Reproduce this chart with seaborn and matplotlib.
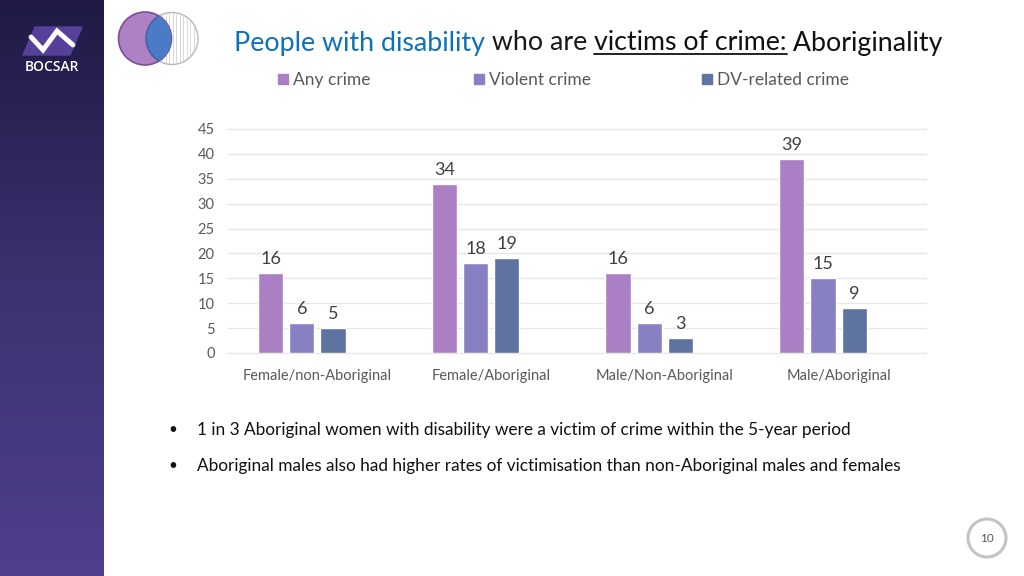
import numpy as np
import pandas as pd
import matplotlib
matplotlib.use("Agg")
import matplotlib.pyplot as plt
from matplotlib.patches import Circle, Polygon, Rectangle
import seaborn as sns

# values
groups = ["Female/non-Aboriginal", "Female/Aboriginal", "Male/Non-Aboriginal", "Male/Aboriginal"]
any_crime = [16, 34, 16, 39]
violent_crime = [6, 18, 6, 15]
dv_crime = [5, 19, 3, 9]
series_names = ["Any crime", "Violent crime", "DV-related crime"]
series_colors = ["#AB7FC3", "#8781C4", "#5E739F"]
y_ticks = [0, 5, 10, 15, 20, 25, 30, 35, 40, 45]
bullets = [
    "1 in 3 Aboriginal women with disability were a victim of crime within the 5-year period",
    "Aboriginal males also had higher rates of victimisation than non-Aboriginal males and females",
]

sns.set_theme(style="white")
plt.rcParams["font.family"] = ["Lato", "DejaVu Sans"]

df = pd.DataFrame({
    "group": groups * 3,
    "series": np.repeat(series_names, 4),
    "value": any_crime + violent_crime + dv_crime,
})

fig = plt.figure(figsize=(10.24, 5.76), dpi=100)

# whole slide layer in pixel coordinates
bg = fig.add_axes([0, 0, 1, 1])
bg.set_xlim(0, 1024)
bg.set_ylim(576, 0)
bg.axis("off")

# sidebar gradient
grad = np.linspace(0, 1, 256).reshape(-1, 1)
side_cmap = matplotlib.colors.LinearSegmentedColormap.from_list("side", ["#1E1A45", "#3C3370", "#503E8E"])
bg.imshow(grad, extent=(0, 104, 576, 0), cmap=side_cmap, aspect="auto")
bg.set_xlim(0, 1024)
bg.set_ylim(576, 0)

# logo
bg.add_patch(Polygon([(35, 27), (82, 27), (70, 55), (23, 55)], color="#56409A"))
bg.plot([31, 43, 57, 73], [37, 50, 31, 45], color="white", lw=3.5, solid_joinstyle="miter")
bg.text(51.5, 67, "BOCSAR", color="white", fontsize=10, fontfamily="Open Sans", fontweight="semibold",
        ha="center", va="center")

# venn icon
right = Circle((172, 38.5), 26, fc="white", ec="#B5B5B5", lw=1)
bg.add_patch(right)
for xs in np.arange(148, 198, 3.5):
    ln, = bg.plot([xs, xs], [10, 67], color="#D2D2D2", lw=0.6, zorder=1.5)
    ln.set_clip_path(right)
left = Circle((145, 38.5), 26.5, fc="#AE80C4", ec="#7D4E98", lw=1.2, zorder=3)
bg.add_patch(left)
overlap = Circle((172, 38.5), 26, fc="#4A7BC6", ec="#3A62A0", lw=1, zorder=4)
bg.add_patch(overlap)
overlap.set_clip_path(left)

# title, pieces laid end to end
fig.canvas.draw()
rend = fig.canvas.get_renderer()
x = 234
for piece, col, under in [("People with disability", "#0B72B9", False),
                          (" who are ", "#1A1A1A", False),
                          ("victims of crime:", "#111111", True),
                          (" Aboriginality", "#111111", False)]:
    t = bg.text(x, 43, piece, color=col, fontsize=19.3, ha="left", va="center")
    w = t.get_window_extent(rend).width
    if under:
        bg.plot([x, x + w], [54, 54], color="#111111", lw=1.3)
    x += w

# legend by hand, the spacing on the slide is not even
for lx, name, col in zip([278, 474, 702], series_names, series_colors):
    bg.add_patch(Rectangle((lx, 74), 10, 10, color=col))
    bg.text(lx + 15, 80, name, color="#595959", fontsize=12.5, ha="left", va="center")

# bullets
for by, line in zip([430, 466], bullets):
    bg.text(168, by, "•", color="#111111", fontsize=11, ha="left", va="center")
    bg.text(197, by, line, color="#111111", fontsize=12.45, ha="left", va="center")

# page number
bg.add_patch(Circle((987, 538), 19, fc="white", ec="#C4C4C4", lw=2.2))
bg.text(987, 538.5, "10", color="#595959", fontsize=8.5, ha="center", va="center")

# chart
ax = fig.add_axes([228 / 1024, 1 - 353 / 576, 698 / 1024, 224 / 576])
ax.patch.set_alpha(0)
sns.barplot(data=df, x="group", y="value", hue="series",
            hue_order=series_names + [" "], palette=series_colors + ["white"],
            order=groups, width=0.72, gap=0.19, legend=False, ax=ax, saturation=1)
for c in ax.containers:
    if len(c) and c.get_label() != " ":
        ax.bar_label(c, fontsize=13, color="#404040", padding=4.5)

ax.set_ylim(0, 45)
ax.set_xlim(-0.515, 3.503)
ax.set_yticks(y_ticks)
ax.set_xlabel("")
ax.set_ylabel("")
ax.grid(axis="y", color="#E6E6E6", lw=1, clip_on=False)
ax.set_axisbelow(True)
sns.despine(ax=ax, left=True, bottom=True)
ax.tick_params(axis="y", length=0, pad=9.5, labelsize=10.5, labelcolor="#595959")
ax.tick_params(axis="x", length=0, pad=11.5, labelsize=10.5, labelcolor="#595959")

fig.savefig("out.png", dpi=100)
